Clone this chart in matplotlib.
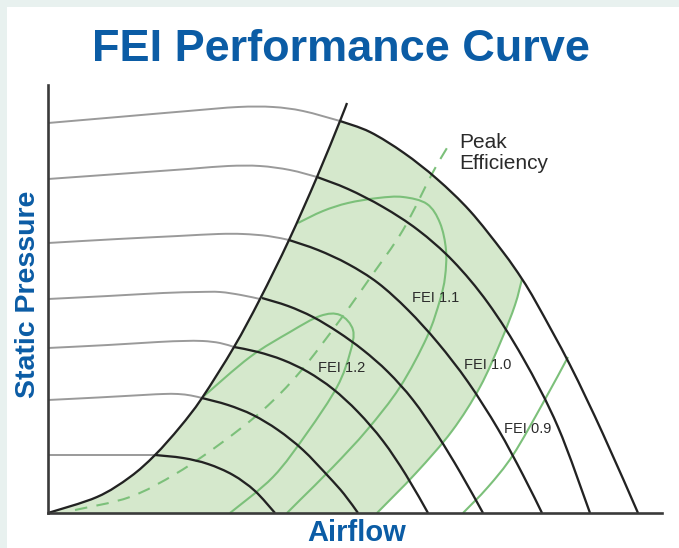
import numpy as np
import matplotlib
matplotlib.use("Agg")
import matplotlib.pyplot as plt
from matplotlib.path import Path
from matplotlib.patches import PathPatch, Rectangle

# ---------------- data (airflow, static pressure in schematic units) ----------------
surge_q = [0, 49, 82, 107, 132, 154, 186, 212, 241, 269, 292, 299]
surge_p = [0, 16, 36, 58, 86, 115, 166, 214, 273, 336, 392, 410]

# fan curves left of surge (grey)
gray_q = [
    [0, 70, 140, 190, 225, 255, 292],
    [0, 70, 140, 180, 212, 242, 269],
    [0, 70, 130, 170, 195, 220, 241],
    [0, 60, 115, 150, 172, 193, 212],
    [0, 60, 110, 135, 155, 172, 186],
    [0, 50, 95, 115, 130, 143, 154],
    [0, 107],
]
gray_p = [
    [390, 396, 402, 406, 406, 402, 392],
    [334, 339, 344, 347, 347, 343, 336],
    [270, 274, 277, 279, 279, 277, 273],
    [214, 217, 220, 221, 221, 218, 214],
    [165, 168, 171, 172, 172, 170, 166],
    [113, 115.5, 118, 119, 119, 117.5, 115],
    [58, 58],
]

# fan curves right of surge (black)
fan_q = [
    [292, 322, 356, 389, 422, 455, 474, 489, 522, 555, 590],
    [269, 300, 335, 370, 405, 440, 475, 510, 542],
    [241, 270, 300, 330, 360, 390, 420, 450, 475, 494],
    [214, 240, 265, 290, 315, 340, 365, 390, 412, 435],
    [186, 210, 235, 260, 285, 310, 335, 358, 380],
    [154, 180, 205, 230, 255, 280, 296, 310],
    [107, 135, 160, 185, 207, 227],
]
fan_p = [
    [392, 381, 360, 334, 302, 261, 234, 209, 148, 79, 0],
    [336, 324, 306, 283, 252, 210, 155, 86, 0],
    [273, 263, 249, 230, 203, 170, 131, 84, 38, 0],
    [215, 207, 196, 181, 163, 141, 113, 77, 41, 0],
    [166, 161, 153, 141, 124, 101, 72, 38, 0],
    [115, 108, 98, 83, 63, 37, 19, 0],
    [58, 55, 49, 38, 22, 0],
]

# FEI contours (green)
fei12_q = [156, 202, 242, 272, 292, 305, 302, 289, 259, 225, 182]
fei12_p = [117, 156, 181, 197, 198, 183, 160, 126, 80, 36, 0]
fei11_q = [250, 275, 300, 330, 355, 379, 392, 398, 397, 392, 379, 352, 319, 285, 252, 239]
fei11_p = [290, 302, 310, 315, 316, 309, 290, 263, 236, 213, 176, 126, 83, 46, 13, 0]
fei10_q = [474, 467, 453, 432, 404, 368, 329]
fei10_p = [234, 208, 172, 126, 82, 40, 0]
fei09_q = [520, 495, 465, 440, 415]
fei09_p = [156, 110, 58, 26, 0]

# peak efficiency line
peak_q = [27, 82, 129, 172, 215, 252, 292, 322, 355, 385, 402]
peak_p = [3, 16, 40, 69, 103, 141, 193, 235, 283, 341, 370]

fei_labels = ["FEI 1.2", "FEI 1.1", "FEI 1.0", "FEI 0.9"]
fei_label_q = [294, 388, 440, 480]
fei_label_p = [145, 215, 148, 84]

# ---------------- styling ----------------
BLUE = "#0b5ca5"
GREEN = "#7cc07a"
SHADE = "#d5e8cc"
BLACK = "#222222"
GREY = "#9a9a9a"
FONT = ["Liberation Sans", "DejaVu Sans"]

W, H = 679, 548
fig = plt.figure(figsize=(W / 100, H / 100), dpi=100)
fig.patch.set_facecolor("#e8f1ef")
fig.patches.append(Rectangle((7 / W, 0), 1 - 7 / W, 1 - 7 / H, transform=fig.transFigure,
                             facecolor="white", edgecolor="none", zorder=-5))

ax = fig.add_axes([48 / W, 35 / H, 614 / W, 428 / H])
ax.set_zorder(2)
ax.set_xlim(0, 614)
ax.set_ylim(0, 428)
ax.patch.set_visible(False)
for s in ["top", "right"]:
    ax.spines[s].set_visible(False)
for s in ["left", "bottom"]:
    ax.spines[s].set_linewidth(1.9)
    ax.spines[s].set_color("#3a3a3a")
    ax.spines[s].set_zorder(6)
ax.set_xticks([])
ax.set_yticks([])


def smooth(xs, ys, move=True):
    P = np.column_stack([xs, ys]).astype(float)
    n = len(P)
    ext = np.vstack([P[0], P, P[-1]])
    verts = [P[0]] if move else []
    codes = [Path.MOVETO] if move else []
    for i in range(n - 1):
        p0, p1, p2, p3 = ext[i], ext[i + 1], ext[i + 2], ext[i + 3]
        verts += [p1 + (p2 - p0) / 6, p2 - (p3 - p1) / 6, p2]
        codes += [Path.CURVE4] * 3
    return verts, codes


def draw(xs, ys, color, lw, z, dashes=None):
    v, c = smooth(xs, ys)
    patch = PathPatch(Path(v, c), facecolor="none", edgecolor=color, lw=lw,
                      zorder=z, clip_on=False, capstyle="butt", joinstyle="round")
    if dashes is not None:
        patch.set_linestyle((0, dashes))
    ax.add_patch(patch)


# shaded region: surge -> top fan curve -> FEI 1.0 boundary -> x-axis
k = fan_q[0].index(fei10_q[0])
v1, c1 = smooth(surge_q[:11], surge_p[:11])
v2, c2 = smooth(fan_q[0][:k + 1], fan_p[0][:k + 1], move=False)
v3, c3 = smooth(fei10_q, fei10_p, move=False)
verts = v1 + v2 + v3 + [(0, 0), (0, 0)]
codes = c1 + c2 + c3 + [Path.LINETO, Path.CLOSEPOLY]
ax.add_patch(PathPatch(Path(verts, codes), facecolor=SHADE, edgecolor="none", zorder=1))

# green contours
for qs, ps in [(fei12_q, fei12_p), (fei11_q, fei11_p), (fei10_q, fei10_p), (fei09_q, fei09_p)]:
    draw(qs, ps, GREEN, 1.5, 2)
draw(peak_q, peak_p, GREEN, 1.5, 2, dashes=(6, 4.5))

# fan curves
for qs, ps in zip(gray_q, gray_p):
    draw(qs, ps, GREY, 1.4, 3)
for qs, ps in zip(fan_q, fan_p):
    draw(qs, ps, BLACK, 1.65, 4)
draw(surge_q, surge_p, BLACK, 1.65, 5)

# labels inside plot
for t, q, p in zip(fei_labels, fei_label_q, fei_label_p):
    ax.text(q, p, t, ha="center", va="center", fontsize=10.5, color="#2a2a2a",
            family=FONT, zorder=7)
ax.text(411, 365, "Peak", ha="left", va="baseline", fontsize=15, color="#2a2a2a", family=FONT)
ax.text(411, 344, "Efficiency", ha="left", va="baseline", fontsize=15, color="#2a2a2a", family=FONT)

# title and axis labels
fig.text(341 / W, 1 - 61 / H, "FEI Performance Curve", ha="center", va="baseline",
         fontsize=32.5, fontweight="bold", color=BLUE, family=FONT)
fig.text(357 / W, 1 - 541 / H, "Airflow", ha="center", va="baseline",
         fontsize=21, fontweight="bold", color=BLUE, family=FONT)
fig.text(28 / W, 1 - 294 / H, "Static Pressure", ha="center", va="center", rotation=90,
         fontsize=20.5, fontweight="bold", color=BLUE, family=FONT)

fig.savefig("out.png", dpi=100, facecolor=fig.get_facecolor())
